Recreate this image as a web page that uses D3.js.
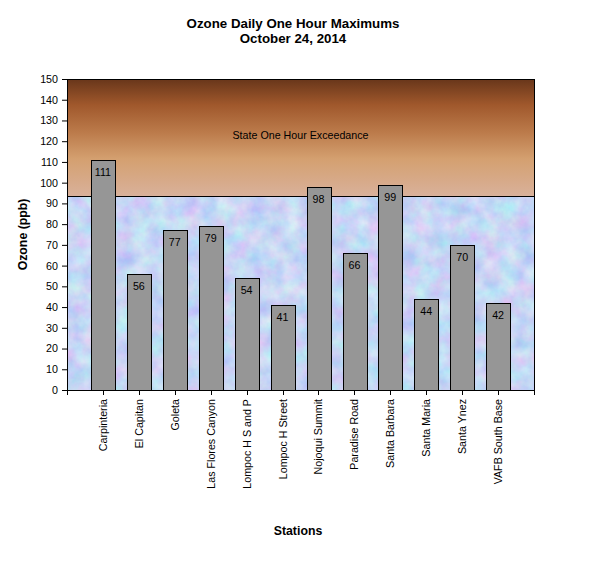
<!DOCTYPE html>
<html>
<head>
<meta charset="utf-8">
<script src="https://cdn.jsdelivr.net/npm/d3@7"></script>
<style>
  body { margin: 0; background: #fff; }
  svg text { font-family: "Liberation Sans", Arial, sans-serif; fill: #000; }
</style>
</head>
<body>
<div id="chart"></div>
<script>
// Chart values
const stations = ["Carpinteria", "El Capitan", "Goleta", "Las Flores Canyon", "Lompoc H S and P",
  "Lompoc H Street", "Nojoqui Summit", "Paradise Road", "Santa Barbara", "Santa Maria",
  "Santa Ynez", "VAFB South Base"];
const ozone = [111, 56, 77, 79, 54, 41, 98, 66, 99, 44, 70, 42];
const yTicks = [0, 10, 20, 30, 40, 50, 60, 70, 80, 90, 100, 110, 120, 130, 140, 150];
const exceedance = 93.5; // state one hour line
const titleLines = ["Ozone Daily One Hour Maximums", "October 24, 2014"];

const width = 612, height = 565;
const plot = { left: 67, right: 534, top: 79, bottom: 390 };

const svg = d3.select("#chart").append("svg")
    .attr("width", width)
    .attr("height", height);

const x = d3.scalePoint()
    .domain(stations)
    .range([plot.left, plot.right])
    .padding(1);

const y = d3.scaleLinear()
    .domain([0, 150])
    .range([plot.bottom, plot.top]);

const yLine = Math.round(y(exceedance)) + 0.5;

const defs = svg.append("defs");

// brown gradient for the exceedance zone
const grad = defs.append("linearGradient")
    .attr("id", "exceed")
    .attr("x1", 0).attr("y1", 0).attr("x2", 0).attr("y2", 1);
[["0%", "#68361a"], ["22%", "#a0582c"], ["45%", "#bb7a4a"], ["68%", "#d4a070"], ["100%", "#d9b19b"]]
    .forEach(([o, c]) => grad.append("stop").attr("offset", o).attr("stop-color", c));

// pastel mottled texture for the lower zone
const filt = defs.append("filter")
    .attr("id", "tex")
    .attr("filterUnits", "userSpaceOnUse")
    .attr("color-interpolation-filters", "sRGB")
    .attr("x", plot.left).attr("y", yLine)
    .attr("width", plot.right - plot.left)
    .attr("height", plot.bottom - yLine);
filt.append("feTurbulence")
    .attr("type", "fractalNoise")
    .attr("baseFrequency", 0.06)
    .attr("numOctaves", 4)
    .attr("seed", 7);
filt.append("feColorMatrix")
    .attr("type", "matrix")
    .attr("values", "0.3 0 0 0 0.63  0 0.25 0 0 0.715  0 0 0.06 0 0.93  0 0 0 0 1");

svg.append("rect")
    .attr("x", plot.left)
    .attr("y", y(150))
    .attr("width", plot.right - plot.left)
    .attr("height", yLine - y(150))
    .attr("fill", "url(#exceed)");

svg.append("rect")
    .attr("x", plot.left)
    .attr("y", yLine)
    .attr("width", plot.right - plot.left)
    .attr("height", plot.bottom - yLine)
    .attr("fill", "#cad6f4")
    .attr("filter", "url(#tex)");

svg.append("line")
    .attr("x1", plot.left).attr("x2", plot.right)
    .attr("y1", yLine).attr("y2", yLine)
    .attr("stroke", "#000");

svg.append("text")
    .attr("x", (plot.left + plot.right) / 2)
    .attr("y", 139)
    .attr("text-anchor", "middle")
    .style("font-size", "10.7px")
    .text("State One Hour Exceedance");

// bars
const barW = x.step() * 0.66;
const bars = svg.append("g").attr("class", "bars");

bars.selectAll("rect")
    .data(stations)
    .enter()
    .append("rect")
    .attr("x", d => Math.round(x(d) - barW / 2) + 0.5)
    .attr("y", (d, i) => Math.round(y(ozone[i])) + 0.5)
    .attr("width", Math.round(barW))
    .attr("height", (d, i) => Math.round(y(0)) - Math.round(y(ozone[i])))
    .attr("fill", "#969696")
    .attr("stroke", "#000")
    .attr("stroke-width", 1);

bars.selectAll("text")
    .data(stations)
    .enter()
    .append("text")
    .attr("x", d => x(d))
    .attr("y", (d, i) => y(ozone[i]) + 16)
    .attr("text-anchor", "middle")
    .style("font-size", "10.7px")
    .text((d, i) => ozone[i]);

// frame
svg.append("rect")
    .attr("x", plot.left + 0.5)
    .attr("y", plot.top + 0.5)
    .attr("width", plot.right - plot.left)
    .attr("height", plot.bottom - plot.top)
    .attr("fill", "none")
    .attr("stroke", "#000");

// y axis
const yAxis = svg.append("g")
    .attr("transform", `translate(${plot.left},0)`)
    .call(d3.axisLeft(y).tickValues(yTicks).tickSize(5).tickPadding(4));
yAxis.select(".domain").remove();
yAxis.selectAll("text")
    .style("font-size", "10.7px")
    .style("font-family", "'Liberation Sans', Arial, sans-serif");

// x axis: ticks at both edges plus every station
const xAxis = svg.append("g")
    .attr("transform", `translate(0,${plot.bottom})`);
xAxis.selectAll("line")
    .data([plot.left, ...stations.map(d => x(d)), plot.right])
    .enter()
    .append("line")
    .attr("x1", d => Math.round(d) + 0.5).attr("x2", d => Math.round(d) + 0.5)
    .attr("y1", 0).attr("y2", 5)
    .attr("stroke", "#000");
xAxis.selectAll("text")
    .data(stations)
    .enter()
    .append("text")
    .attr("transform", d => `translate(${x(d) + 4},9) rotate(-90)`)
    .attr("text-anchor", "end")
    .style("font-size", "10.7px")
    .text(d => d);

// titles
svg.append("text")
    .attr("x", 293)
    .attr("y", 28)
    .attr("text-anchor", "middle")
    .style("font-size", "13.3px")
    .style("font-weight", "bold")
    .selectAll("tspan")
    .data(titleLines)
    .enter()
    .append("tspan")
    .attr("x", 293)
    .attr("dy", (d, i) => i ? 15 : 0)
    .text(d => d);

svg.append("text")
    .attr("x", 298)
    .attr("y", 535)
    .attr("text-anchor", "middle")
    .style("font-size", "12.3px")
    .style("font-weight", "bold")
    .text("Stations");

svg.append("text")
    .attr("transform", `translate(27,${(plot.top + plot.bottom) / 2}) rotate(-90)`)
    .attr("text-anchor", "middle")
    .style("font-size", "12.3px")
    .style("font-weight", "bold")
    .text("Ozone (ppb)");
</script>
</body>
</html>
